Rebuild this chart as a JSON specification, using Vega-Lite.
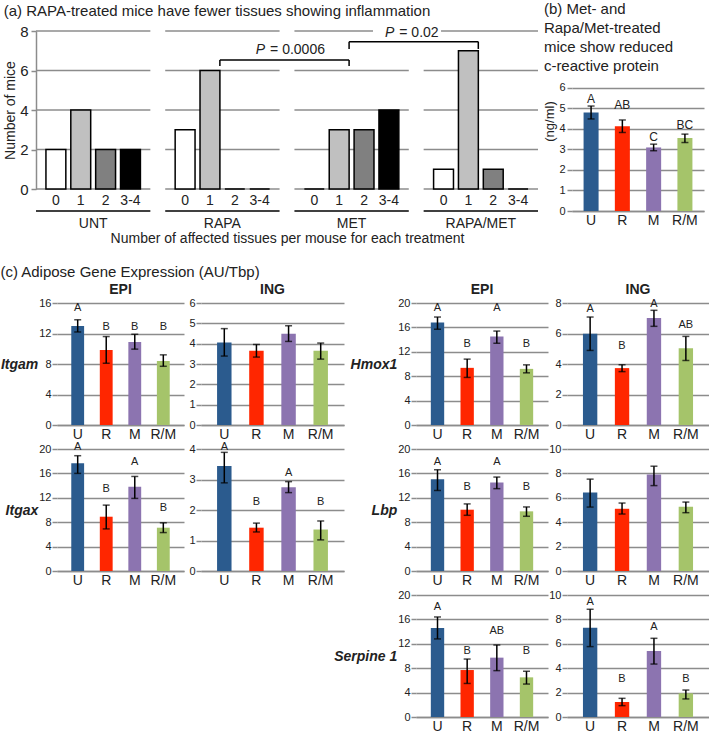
{
  "$schema": "https://vega.github.io/schema/vega-lite/v6.json",
  "padding": {"left": 0, "top": 2, "right": 0, "bottom": 0},
  "background": "white",
  "config": {
    "font": "Liberation Sans",
    "view": {"stroke": null},
    "axis": {"labelColor": "#222", "titleColor": "#222", "titleFontWeight": "normal", "gridColor": "#8c8c8c", "gridWidth": 1.5, "domainColor": "#8c8c8c", "domainWidth": 1.5, "tickColor": "#8c8c8c", "tickWidth": 1.5},
    "axisY": {"domain": false, "ticks": true, "tickSize": 5, "labelFontSize": 11, "labelPadding": 1, "grid": true},
    "axisX": {"ticks": false, "grid": false, "labelAngle": 0, "labelFontSize": 14, "labelPadding": 2},
    "title": {"fontWeight": "normal", "fontSize": 15, "color": "#222"},
    "text": {"color": "#222"},
    "legend": {"disable": true}
  },
  "datasets": {
    "a": [
      {"trt": "UNT", "cat": "0", "n": 2}, {"trt": "UNT", "cat": "1", "n": 4}, {"trt": "UNT", "cat": "2", "n": 2}, {"trt": "UNT", "cat": "3-4", "n": 2},
      {"trt": "RAPA", "cat": "0", "n": 3}, {"trt": "RAPA", "cat": "1", "n": 6}, {"trt": "RAPA", "cat": "2", "n": 0}, {"trt": "RAPA", "cat": "3-4", "n": 0},
      {"trt": "MET", "cat": "0", "n": 0}, {"trt": "MET", "cat": "1", "n": 3}, {"trt": "MET", "cat": "2", "n": 3}, {"trt": "MET", "cat": "3-4", "n": 4},
      {"trt": "RAPA/MET", "cat": "0", "n": 1}, {"trt": "RAPA/MET", "cat": "1", "n": 7}, {"trt": "RAPA/MET", "cat": "2", "n": 1}, {"trt": "RAPA/MET", "cat": "3-4", "n": 0}
    ],
    "grid": [
      {"trt": "UNT", "y": 0}, {"trt": "UNT", "y": 2}, {"trt": "UNT", "y": 4}, {"trt": "UNT", "y": 6}, {"trt": "UNT", "y": 8},
      {"trt": "RAPA", "y": 0}, {"trt": "RAPA", "y": 2}, {"trt": "RAPA", "y": 4}, {"trt": "RAPA", "y": 6}, {"trt": "RAPA", "y": 8},
      {"trt": "MET", "y": 0}, {"trt": "MET", "y": 2}, {"trt": "MET", "y": 4}, {"trt": "MET", "y": 6}, {"trt": "MET", "y": 8},
      {"trt": "RAPA/MET", "y": 0}, {"trt": "RAPA/MET", "y": 2}, {"trt": "RAPA/MET", "y": 4}, {"trt": "RAPA/MET", "y": 6}, {"trt": "RAPA/MET", "y": 8}
    ],
    "trts": [{"trt": "UNT"}, {"trt": "RAPA"}, {"trt": "MET"}, {"trt": "RAPA/MET"}],
    "br": [
      {"a": "RAPA", "b": "MET", "top": 6.53, "foot": 6.23, "py": 7.04, "pv": "= 0.0006"},
      {"a": "MET", "b": "RAPA/MET", "top": 7.46, "foot": 7.09, "py": 7.9, "pv": "= 0.02"}
    ],
    "b": [
      {"g": "U", "v": 4.81, "lo": 4.49, "hi": 5.12, "lt": "A", "ly": 5.47},
      {"g": "R", "v": 4.14, "lo": 3.83, "hi": 4.44, "lt": "AB", "ly": 5.17},
      {"g": "M", "v": 3.1, "lo": 2.94, "hi": 3.26, "lt": "C", "ly": 3.59},
      {"g": "R/M", "v": 3.56, "lo": 3.34, "hi": 3.75, "lt": "BC", "ly": 4.19}
    ],
    "c": [
      {"gene": "Itgam", "depot": "EPI", "g": "U", "v": 13.0, "lo": 12.2, "hi": 13.8, "lt": "A", "ly": 15.3},
      {"gene": "Itgam", "depot": "EPI", "g": "R", "v": 9.85, "lo": 8.1, "hi": 11.6, "lt": "B", "ly": 12.9},
      {"gene": "Itgam", "depot": "EPI", "g": "M", "v": 10.9, "lo": 9.95, "hi": 11.9, "lt": "B", "ly": 12.9},
      {"gene": "Itgam", "depot": "EPI", "g": "R/M", "v": 8.4, "lo": 7.7, "hi": 9.2, "lt": "B", "ly": 12.9},
      {"gene": "Itgam", "depot": "ING", "g": "U", "v": 4.06, "lo": 3.39, "hi": 4.74},
      {"gene": "Itgam", "depot": "ING", "g": "R", "v": 3.65, "lo": 3.34, "hi": 3.96},
      {"gene": "Itgam", "depot": "ING", "g": "M", "v": 4.49, "lo": 4.11, "hi": 4.88},
      {"gene": "Itgam", "depot": "ING", "g": "R/M", "v": 3.65, "lo": 3.24, "hi": 4.03},
      {"gene": "Itgax", "depot": "EPI", "g": "U", "v": 17.65, "lo": 16.0, "hi": 18.9, "lt": "A", "ly": 20.3},
      {"gene": "Itgax", "depot": "EPI", "g": "R", "v": 8.9, "lo": 6.9, "hi": 10.8, "lt": "B", "ly": 13.4},
      {"gene": "Itgax", "depot": "EPI", "g": "M", "v": 13.8, "lo": 11.9, "hi": 15.5, "lt": "A", "ly": 17.8},
      {"gene": "Itgax", "depot": "EPI", "g": "R/M", "v": 7.1, "lo": 6.3, "hi": 7.9, "lt": "B", "ly": 10.4},
      {"gene": "Itgax", "depot": "ING", "g": "U", "v": 3.44, "lo": 2.89, "hi": 3.89, "lt": "A", "ly": 4.06},
      {"gene": "Itgax", "depot": "ING", "g": "R", "v": 1.42, "lo": 1.28, "hi": 1.57, "lt": "B", "ly": 2.25},
      {"gene": "Itgax", "depot": "ING", "g": "M", "v": 2.75, "lo": 2.57, "hi": 2.93, "lt": "A", "ly": 3.2},
      {"gene": "Itgax", "depot": "ING", "g": "R/M", "v": 1.36, "lo": 1.02, "hi": 1.64, "lt": "B", "ly": 2.25},
      {"gene": "Hmox1", "depot": "EPI", "g": "U", "v": 16.8, "lo": 15.7, "hi": 17.7, "lt": "A", "ly": 19.1},
      {"gene": "Hmox1", "depot": "EPI", "g": "R", "v": 9.37, "lo": 7.8, "hi": 10.8, "lt": "B", "ly": 13.3},
      {"gene": "Hmox1", "depot": "EPI", "g": "M", "v": 14.5, "lo": 13.4, "hi": 15.4, "lt": "A", "ly": 19.1},
      {"gene": "Hmox1", "depot": "EPI", "g": "R/M", "v": 9.2, "lo": 8.55, "hi": 9.86, "lt": "B", "ly": 13.3},
      {"gene": "Hmox1", "depot": "ING", "g": "U", "v": 5.99, "lo": 4.89, "hi": 7.08, "lt": "A", "ly": 7.63},
      {"gene": "Hmox1", "depot": "ING", "g": "R", "v": 3.73, "lo": 3.5, "hi": 3.95, "lt": "B", "ly": 5.15},
      {"gene": "Hmox1", "depot": "ING", "g": "M", "v": 7.02, "lo": 6.47, "hi": 7.52, "lt": "A", "ly": 7.96},
      {"gene": "Hmox1", "depot": "ING", "g": "R/M", "v": 5.04, "lo": 4.23, "hi": 5.81, "lt": "AB", "ly": 6.54},
      {"gene": "Lbp", "depot": "EPI", "g": "U", "v": 15.05, "lo": 13.2, "hi": 16.6, "lt": "A", "ly": 17.9},
      {"gene": "Lbp", "depot": "EPI", "g": "R", "v": 10.05, "lo": 9.13, "hi": 11.0, "lt": "B", "ly": 13.75},
      {"gene": "Lbp", "depot": "EPI", "g": "M", "v": 14.5, "lo": 13.5, "hi": 15.4, "lt": "A", "ly": 17.9},
      {"gene": "Lbp", "depot": "EPI", "g": "R/M", "v": 9.78, "lo": 8.97, "hi": 10.5, "lt": "B", "ly": 13.75},
      {"gene": "Lbp", "depot": "ING", "g": "U", "v": 6.44, "lo": 5.24, "hi": 7.53},
      {"gene": "Lbp", "depot": "ING", "g": "R", "v": 5.1, "lo": 4.67, "hi": 5.57},
      {"gene": "Lbp", "depot": "ING", "g": "M", "v": 7.9, "lo": 7.0, "hi": 8.59},
      {"gene": "Lbp", "depot": "ING", "g": "R/M", "v": 5.27, "lo": 4.78, "hi": 5.65},
      {"gene": "Serpine 1", "depot": "EPI", "g": "U", "v": 14.6, "lo": 12.8, "hi": 16.4, "lt": "A", "ly": 18.1},
      {"gene": "Serpine 1", "depot": "EPI", "g": "R", "v": 7.7, "lo": 5.5, "hi": 9.5, "lt": "B", "ly": 10.8},
      {"gene": "Serpine 1", "depot": "EPI", "g": "M", "v": 9.73, "lo": 7.6, "hi": 11.8, "lt": "AB", "ly": 14.1},
      {"gene": "Serpine 1", "depot": "EPI", "g": "R/M", "v": 6.5, "lo": 5.4, "hi": 7.5, "lt": "B", "ly": 10.8},
      {"gene": "Serpine 1", "depot": "ING", "g": "U", "v": 7.32, "lo": 5.77, "hi": 8.83, "lt": "A", "ly": 9.45},
      {"gene": "Serpine 1", "depot": "ING", "g": "R", "v": 1.23, "lo": 0.93, "hi": 1.53, "lt": "B", "ly": 3.11},
      {"gene": "Serpine 1", "depot": "ING", "g": "M", "v": 5.41, "lo": 4.34, "hi": 6.45, "lt": "A", "ly": 7.4},
      {"gene": "Serpine 1", "depot": "ING", "g": "R/M", "v": 1.94, "lo": 1.48, "hi": 2.21, "lt": "B", "ly": 3.11}
    ]
  },
  "spacing": 20,
  "vconcat": [
    {
      "spacing": -16,
      "hconcat": [
        {
          "width": 481,
          "height": 158,
          "title": {"text": "(a) RAPA-treated mice have fewer tissues showing inflammation", "anchor": "start", "frame": "bounds", "fontSize": 15, "offset": 5},
          "layer": [
            {
              "data": {"name": "grid"},
              "mark": {"type": "rule", "color": "#8c8c8c", "strokeWidth": 1.5},
              "encoding": {
                "x": {"field": "trt", "type": "nominal", "bandPosition": 0, "title": "Number of affected tissues per mouse for each treatment",
                  "scale": {"domain": ["UNT", "RAPA", "MET", "RAPA/MET"], "range": [-21, 481], "paddingInner": 0.115, "paddingOuter": 0},
                  "axis": {"labelPadding": 27, "labelFontSize": 14, "titleFontSize": 14, "titlePadding": 1, "domain": false, "ticks": false}},
                "x2": {"field": "trt", "bandPosition": 1},
                "y": {"field": "y", "type": "quantitative", "title": "Number of mice", "scale": {"domain": [0, 8]},
                  "axis": {"values": [0, 2, 4, 6, 8], "offset": 21, "grid": false, "domain": true, "tickSize": 5, "labelFontSize": 15, "labelPadding": 3, "titleFontSize": 14, "titlePadding": 2}}
              }
            },
            {
              "data": {"values": [{}]},
              "mark": {"type": "rect", "fill": "white"},
              "encoding": {
                "x": {"datum": "MET", "type": "nominal", "bandPosition": 0.687},
                "x2": {"datum": "RAPA/MET", "bandPosition": 0.152},
                "y": {"datum": 7.7, "type": "quantitative", "title": "Number of mice", "axis": {"values": [0, 2, 4, 6, 8], "offset": 21, "grid": false, "domain": true, "tickSize": 5, "labelFontSize": 15, "labelPadding": 3, "titleFontSize": 14, "titlePadding": 2}},
                "y2": {"datum": 8.3}
              }
            },
            {
              "data": {"name": "a"},
              "mark": {"type": "bar", "stroke": "black", "strokeWidth": 1.5},
              "encoding": {
                "x": {"field": "trt", "type": "nominal", "title": "Number of affected tissues per mouse for each treatment"},
                "xOffset": {"field": "cat", "type": "nominal", "scale": {"domain": ["0", "1", "2", "3-4"], "paddingInner": 0.2, "paddingOuter": 0.4}},
                "y": {"field": "n", "type": "quantitative", "title": "Number of mice", "axis": {"values": [0, 2, 4, 6, 8], "offset": 21, "grid": false, "domain": true, "tickSize": 5, "labelFontSize": 15, "labelPadding": 3, "titleFontSize": 14, "titlePadding": 2}},
                "fill": {"field": "cat", "type": "nominal", "scale": {"domain": ["0", "1", "2", "3-4"], "range": ["#ffffff", "#c0c0c0", "#808080", "#000000"]}, "legend": null}
              }
            },
            {
              "data": {"name": "a"},
              "mark": {"type": "text", "fontSize": 14, "baseline": "top", "dy": 5},
              "encoding": {
                "x": {"field": "trt", "type": "nominal", "title": "Number of affected tissues per mouse for each treatment"},
                "xOffset": {"field": "cat", "type": "nominal"},
                "y": {"datum": 0, "type": "quantitative", "title": "Number of mice", "axis": {"values": [0, 2, 4, 6, 8], "offset": 21, "grid": false, "domain": true, "tickSize": 5, "labelFontSize": 15, "labelPadding": 3, "titleFontSize": 14, "titlePadding": 2}},
                "text": {"field": "cat"}
              }
            },
            {
              "data": {"name": "trts"},
              "mark": {"type": "rule", "color": "black", "strokeWidth": 1.5, "yOffset": 22},
              "encoding": {
                "x": {"field": "trt", "type": "nominal", "bandPosition": 0, "title": "Number of affected tissues per mouse for each treatment"},
                "x2": {"field": "trt", "bandPosition": 1},
                "y": {"datum": 0, "type": "quantitative", "title": "Number of mice", "axis": {"values": [0, 2, 4, 6, 8], "offset": 21, "grid": false, "domain": true, "tickSize": 5, "labelFontSize": 15, "labelPadding": 3, "titleFontSize": 14, "titlePadding": 2}}
              }
            },
            {
              "data": {"name": "br"},
              "mark": {"type": "rule", "color": "black", "strokeWidth": 1.5},
              "encoding": {
                "x": {"field": "a", "type": "nominal", "bandPosition": 0.478, "title": "Number of affected tissues per mouse for each treatment"},
                "x2": {"field": "b", "bandPosition": 0.478},
                "y": {"field": "top", "type": "quantitative", "title": "Number of mice", "axis": {"values": [0, 2, 4, 6, 8], "offset": 21, "grid": false, "domain": true, "tickSize": 5, "labelFontSize": 15, "labelPadding": 3, "titleFontSize": 14, "titlePadding": 2}}
              }
            },
            {
              "data": {"name": "br"},
              "mark": {"type": "rule", "color": "black", "strokeWidth": 1.5},
              "encoding": {
                "x": {"field": "a", "type": "nominal", "bandPosition": 0.478, "title": "Number of affected tissues per mouse for each treatment"},
                "y": {"field": "top", "type": "quantitative", "title": "Number of mice", "axis": {"values": [0, 2, 4, 6, 8], "offset": 21, "grid": false, "domain": true, "tickSize": 5, "labelFontSize": 15, "labelPadding": 3, "titleFontSize": 14, "titlePadding": 2}},
                "y2": {"field": "foot"}
              }
            },
            {
              "data": {"name": "br"},
              "mark": {"type": "rule", "color": "black", "strokeWidth": 1.5},
              "encoding": {
                "x": {"field": "b", "type": "nominal", "bandPosition": 0.478, "title": "Number of affected tissues per mouse for each treatment"},
                "y": {"field": "top", "type": "quantitative", "title": "Number of mice", "axis": {"values": [0, 2, 4, 6, 8], "offset": 21, "grid": false, "domain": true, "tickSize": 5, "labelFontSize": 15, "labelPadding": 3, "titleFontSize": 14, "titlePadding": 2}},
                "y2": {"field": "foot"}
              }
            },
            {
              "data": {"name": "br"},
              "mark": {"type": "text", "text": "P", "fontStyle": "italic", "fontSize": 14, "align": "right", "baseline": "middle", "dx": -84},
              "encoding": {
                "x": {"field": "b", "type": "nominal", "bandPosition": 0.478, "title": "Number of affected tissues per mouse for each treatment"},
                "y": {"field": "py", "type": "quantitative", "title": "Number of mice", "axis": {"values": [0, 2, 4, 6, 8], "offset": 21, "grid": false, "domain": true, "tickSize": 5, "labelFontSize": 15, "labelPadding": 3, "titleFontSize": 14, "titlePadding": 2}}
              }
            },
            {
              "data": {"name": "br"},
              "mark": {"type": "text", "fontSize": 14, "align": "left", "baseline": "middle", "dx": -79},
              "encoding": {
                "x": {"field": "b", "type": "nominal", "bandPosition": 0.478, "title": "Number of affected tissues per mouse for each treatment"},
                "y": {"field": "py", "type": "quantitative", "title": "Number of mice", "axis": {"values": [0, 2, 4, 6, 8], "offset": 21, "grid": false, "domain": true, "tickSize": 5, "labelFontSize": 15, "labelPadding": 3, "titleFontSize": 14, "titlePadding": 2}},
                "text": {"field": "pv"}
              }
            }
          ]
        },
        {
          "width": 132,
          "height": 180,
          "title": {"text": ["(b) Met- and", "Rapa/Met-treated", "mice show reduced", "c-reactive protein"], "anchor": "start", "frame": "bounds", "fontSize": 15, "lineHeight": 19, "offset": -43},
          "data": {"name": "b"},
          "encoding": {"x": {"field": "g", "type": "nominal", "sort": ["U", "R", "M", "R/M"], "title": null, "scale": {"paddingInner": 0.52, "paddingOuter": 0.37}}},
          "layer": [
            {"mark": {"type": "bar"}, "encoding": {
              "y": {"field": "v", "type": "quantitative", "title": "(ng/ml)", "scale": {"domain": [0, 8.78]}, "axis": {"values": [0, 1, 2, 3, 4, 5, 6], "titleFontSize": 13, "titlePadding": 2, "labelPadding": 2}},
              "color": {"field": "g", "type": "nominal", "scale": {"domain": ["U", "R", "M", "R/M"], "range": ["#2b5b8e", "#ff2600", "#8c74b0", "#a5c46a"]}, "legend": null}}},
            {"mark": {"type": "errorbar", "color": "black", "ticks": {"size": 7, "thickness": 1.5, "color": "black"}, "rule": {"strokeWidth": 1.5, "color": "black"}}, "encoding": {
              "y": {"field": "lo", "type": "quantitative", "title": "(ng/ml)", "scale": {"domain": [0, 8.78]}, "axis": {"values": [0, 1, 2, 3, 4, 5, 6], "titleFontSize": 13, "titlePadding": 2, "labelPadding": 2}},
              "y2": {"field": "hi"}}},
            {"mark": {"type": "text", "fontSize": 12, "baseline": "middle"}, "encoding": {
              "y": {"field": "ly", "type": "quantitative", "title": "(ng/ml)", "scale": {"domain": [0, 8.78]}, "axis": {"values": [0, 1, 2, 3, 4, 5, 6], "titleFontSize": 13, "titlePadding": 2, "labelPadding": 2}},
              "text": {"field": "lt"}}}
          ]
        }
      ]
    },
    {
      "title": {"text": "(c) Adipose Gene Expression (AU/Tbp)", "anchor": "start", "frame": "bounds", "fontSize": 15, "offset": 3},
      "spacing": -11,
      "hconcat": [
        {
          "spacing": 4,
          "hconcat": [
            {
              "spacing": 24, "bounds": "flush",
              "vconcat": [
                {
                  "width": 127, "height": 122,
                  "title": {"text": "EPI", "fontWeight": "bold", "fontSize": 14, "offset": 0},
                  "data": {"name": "c"},
                  "transform": [{"filter": "datum.gene === 'Itgam' && datum.depot === 'EPI'"}],
                  "encoding": {"x": {"field": "g", "type": "nominal", "sort": ["U", "R", "M", "R/M"], "title": null, "scale": {"paddingInner": 0.55, "paddingOuter": 0.5}}},
                  "layer": [
                    {"mark": {"type": "bar"}, "encoding": {
                      "y": {"field": "v", "type": "quantitative", "title": "Itgam", "scale": {"domain": [0, 16]}, "axis": {"values": [0, 4, 8, 12, 16], "titleAngle": 0, "titleAlign": "right", "titleBaseline": "middle", "titleFontStyle": "italic", "titleFontWeight": "bold", "titleFontSize": 14, "titlePadding": 1}},
                      "color": {"field": "g", "type": "nominal", "scale": {"domain": ["U", "R", "M", "R/M"], "range": ["#2b5b8e", "#ff2600", "#8c74b0", "#a5c46a"]}, "legend": null}}},
                    {"mark": {"type": "errorbar", "color": "black", "ticks": {"size": 7, "thickness": 1.5, "color": "black"}, "rule": {"strokeWidth": 1.5, "color": "black"}}, "encoding": {
                      "y": {"field": "lo", "type": "quantitative", "title": "Itgam", "scale": {"domain": [0, 16]}, "axis": {"values": [0, 4, 8, 12, 16], "titleAngle": 0, "titleAlign": "right", "titleBaseline": "middle", "titleFontStyle": "italic", "titleFontWeight": "bold", "titleFontSize": 14, "titlePadding": 1}},
                      "y2": {"field": "hi"}}},
                    {"transform": [{"filter": "datum.lt"}], "mark": {"type": "text", "fontSize": 11, "baseline": "middle"}, "encoding": {
                      "y": {"field": "ly", "type": "quantitative", "title": "Itgam", "scale": {"domain": [0, 16]}, "axis": {"values": [0, 4, 8, 12, 16], "titleAngle": 0, "titleAlign": "right", "titleBaseline": "middle", "titleFontStyle": "italic", "titleFontWeight": "bold", "titleFontSize": 14, "titlePadding": 1}},
                      "text": {"field": "lt"}}}
                  ]
                },
                {
                  "width": 127, "height": 122,
                  "data": {"name": "c"},
                  "transform": [{"filter": "datum.gene === 'Itgax' && datum.depot === 'EPI'"}],
                  "encoding": {"x": {"field": "g", "type": "nominal", "sort": ["U", "R", "M", "R/M"], "title": null, "scale": {"paddingInner": 0.55, "paddingOuter": 0.5}}},
                  "layer": [
                    {"mark": {"type": "bar"}, "encoding": {
                      "y": {"field": "v", "type": "quantitative", "title": "Itgax", "scale": {"domain": [0, 20]}, "axis": {"values": [0, 4, 8, 12, 16, 20], "titleAngle": 0, "titleAlign": "right", "titleBaseline": "middle", "titleFontStyle": "italic", "titleFontWeight": "bold", "titleFontSize": 14, "titlePadding": 1}},
                      "color": {"field": "g", "type": "nominal", "scale": {"domain": ["U", "R", "M", "R/M"], "range": ["#2b5b8e", "#ff2600", "#8c74b0", "#a5c46a"]}, "legend": null}}},
                    {"mark": {"type": "errorbar", "color": "black", "ticks": {"size": 7, "thickness": 1.5, "color": "black"}, "rule": {"strokeWidth": 1.5, "color": "black"}}, "encoding": {
                      "y": {"field": "lo", "type": "quantitative", "title": "Itgax", "scale": {"domain": [0, 20]}, "axis": {"values": [0, 4, 8, 12, 16, 20], "titleAngle": 0, "titleAlign": "right", "titleBaseline": "middle", "titleFontStyle": "italic", "titleFontWeight": "bold", "titleFontSize": 14, "titlePadding": 1}},
                      "y2": {"field": "hi"}}},
                    {"transform": [{"filter": "datum.lt"}], "mark": {"type": "text", "fontSize": 11, "baseline": "middle"}, "encoding": {
                      "y": {"field": "ly", "type": "quantitative", "title": "Itgax", "scale": {"domain": [0, 20]}, "axis": {"values": [0, 4, 8, 12, 16, 20], "titleAngle": 0, "titleAlign": "right", "titleBaseline": "middle", "titleFontStyle": "italic", "titleFontWeight": "bold", "titleFontSize": 14, "titlePadding": 1}},
                      "text": {"field": "lt"}}}
                  ]
                }
              ]
            },
            {
              "spacing": 24, "bounds": "flush",
              "vconcat": [
                {
                  "width": 143, "height": 122,
                  "title": {"text": "ING", "fontWeight": "bold", "fontSize": 14, "offset": 0},
                  "data": {"name": "c"},
                  "transform": [{"filter": "datum.gene === 'Itgam' && datum.depot === 'ING'"}],
                  "encoding": {"x": {"field": "g", "type": "nominal", "sort": ["U", "R", "M", "R/M"], "title": null, "scale": {"paddingInner": 0.55, "paddingOuter": 0.5}}},
                  "layer": [
                    {"mark": {"type": "bar"}, "encoding": {
                      "y": {"field": "v", "type": "quantitative", "title": null, "scale": {"domain": [0, 6]}, "axis": {"values": [0, 1, 2, 3, 4, 5, 6]}},
                      "color": {"field": "g", "type": "nominal", "scale": {"domain": ["U", "R", "M", "R/M"], "range": ["#2b5b8e", "#ff2600", "#8c74b0", "#a5c46a"]}, "legend": null}}},
                    {"mark": {"type": "errorbar", "color": "black", "ticks": {"size": 7, "thickness": 1.5, "color": "black"}, "rule": {"strokeWidth": 1.5, "color": "black"}}, "encoding": {
                      "y": {"field": "lo", "type": "quantitative", "title": null, "scale": {"domain": [0, 6]}, "axis": {"values": [0, 1, 2, 3, 4, 5, 6]}},
                      "y2": {"field": "hi"}}}
                  ]
                },
                {
                  "width": 143, "height": 122,
                  "data": {"name": "c"},
                  "transform": [{"filter": "datum.gene === 'Itgax' && datum.depot === 'ING'"}],
                  "encoding": {"x": {"field": "g", "type": "nominal", "sort": ["U", "R", "M", "R/M"], "title": null, "scale": {"paddingInner": 0.55, "paddingOuter": 0.5}}},
                  "layer": [
                    {"mark": {"type": "bar"}, "encoding": {
                      "y": {"field": "v", "type": "quantitative", "title": null, "scale": {"domain": [0, 4]}, "axis": {"values": [0, 1, 2, 3, 4]}},
                      "color": {"field": "g", "type": "nominal", "scale": {"domain": ["U", "R", "M", "R/M"], "range": ["#2b5b8e", "#ff2600", "#8c74b0", "#a5c46a"]}, "legend": null}}},
                    {"mark": {"type": "errorbar", "color": "black", "ticks": {"size": 7, "thickness": 1.5, "color": "black"}, "rule": {"strokeWidth": 1.5, "color": "black"}}, "encoding": {
                      "y": {"field": "lo", "type": "quantitative", "title": null, "scale": {"domain": [0, 4]}, "axis": {"values": [0, 1, 2, 3, 4]}},
                      "y2": {"field": "hi"}}},
                    {"transform": [{"filter": "datum.lt"}], "mark": {"type": "text", "fontSize": 11, "baseline": "middle"}, "encoding": {
                      "y": {"field": "ly", "type": "quantitative", "title": null, "scale": {"domain": [0, 4]}, "axis": {"values": [0, 1, 2, 3, 4]}},
                      "text": {"field": "lt"}}}
                  ]
                }
              ]
            }
          ]
        },
        {
          "spacing": 0,
          "hconcat": [
            {
              "spacing": 24, "bounds": "flush",
              "vconcat": [
                {
                  "width": 132, "height": 122,
                  "title": {"text": "EPI", "fontWeight": "bold", "fontSize": 14, "offset": 0},
                  "data": {"name": "c"},
                  "transform": [{"filter": "datum.gene === 'Hmox1' && datum.depot === 'EPI'"}],
                  "encoding": {"x": {"field": "g", "type": "nominal", "sort": ["U", "R", "M", "R/M"], "title": null, "scale": {"paddingInner": 0.55, "paddingOuter": 0.5}}},
                  "layer": [
                    {"mark": {"type": "bar"}, "encoding": {
                      "y": {"field": "v", "type": "quantitative", "title": "Hmox1", "scale": {"domain": [0, 20]}, "axis": {"values": [0, 4, 8, 12, 16, 20], "titleAngle": 0, "titleAlign": "right", "titleBaseline": "middle", "titleFontStyle": "italic", "titleFontWeight": "bold", "titleFontSize": 14, "titlePadding": 1}},
                      "color": {"field": "g", "type": "nominal", "scale": {"domain": ["U", "R", "M", "R/M"], "range": ["#2b5b8e", "#ff2600", "#8c74b0", "#a5c46a"]}, "legend": null}}},
                    {"mark": {"type": "errorbar", "color": "black", "ticks": {"size": 7, "thickness": 1.5, "color": "black"}, "rule": {"strokeWidth": 1.5, "color": "black"}}, "encoding": {
                      "y": {"field": "lo", "type": "quantitative", "title": "Hmox1", "scale": {"domain": [0, 20]}, "axis": {"values": [0, 4, 8, 12, 16, 20], "titleAngle": 0, "titleAlign": "right", "titleBaseline": "middle", "titleFontStyle": "italic", "titleFontWeight": "bold", "titleFontSize": 14, "titlePadding": 1}},
                      "y2": {"field": "hi"}}},
                    {"transform": [{"filter": "datum.lt"}], "mark": {"type": "text", "fontSize": 11, "baseline": "middle"}, "encoding": {
                      "y": {"field": "ly", "type": "quantitative", "title": "Hmox1", "scale": {"domain": [0, 20]}, "axis": {"values": [0, 4, 8, 12, 16, 20], "titleAngle": 0, "titleAlign": "right", "titleBaseline": "middle", "titleFontStyle": "italic", "titleFontWeight": "bold", "titleFontSize": 14, "titlePadding": 1}},
                      "text": {"field": "lt"}}}
                  ]
                },
                {
                  "width": 132, "height": 122,
                  "data": {"name": "c"},
                  "transform": [{"filter": "datum.gene === 'Lbp' && datum.depot === 'EPI'"}],
                  "encoding": {"x": {"field": "g", "type": "nominal", "sort": ["U", "R", "M", "R/M"], "title": null, "scale": {"paddingInner": 0.55, "paddingOuter": 0.5}}},
                  "layer": [
                    {"mark": {"type": "bar"}, "encoding": {
                      "y": {"field": "v", "type": "quantitative", "title": "Lbp", "scale": {"domain": [0, 20]}, "axis": {"values": [0, 4, 8, 12, 16, 20], "titleAngle": 0, "titleAlign": "right", "titleBaseline": "middle", "titleFontStyle": "italic", "titleFontWeight": "bold", "titleFontSize": 14, "titlePadding": 1}},
                      "color": {"field": "g", "type": "nominal", "scale": {"domain": ["U", "R", "M", "R/M"], "range": ["#2b5b8e", "#ff2600", "#8c74b0", "#a5c46a"]}, "legend": null}}},
                    {"mark": {"type": "errorbar", "color": "black", "ticks": {"size": 7, "thickness": 1.5, "color": "black"}, "rule": {"strokeWidth": 1.5, "color": "black"}}, "encoding": {
                      "y": {"field": "lo", "type": "quantitative", "title": "Lbp", "scale": {"domain": [0, 20]}, "axis": {"values": [0, 4, 8, 12, 16, 20], "titleAngle": 0, "titleAlign": "right", "titleBaseline": "middle", "titleFontStyle": "italic", "titleFontWeight": "bold", "titleFontSize": 14, "titlePadding": 1}},
                      "y2": {"field": "hi"}}},
                    {"transform": [{"filter": "datum.lt"}], "mark": {"type": "text", "fontSize": 11, "baseline": "middle"}, "encoding": {
                      "y": {"field": "ly", "type": "quantitative", "title": "Lbp", "scale": {"domain": [0, 20]}, "axis": {"values": [0, 4, 8, 12, 16, 20], "titleAngle": 0, "titleAlign": "right", "titleBaseline": "middle", "titleFontStyle": "italic", "titleFontWeight": "bold", "titleFontSize": 14, "titlePadding": 1}},
                      "text": {"field": "lt"}}}
                  ]
                },
                {
                  "width": 132, "height": 122,
                  "data": {"name": "c"},
                  "transform": [{"filter": "datum.gene === 'Serpine 1' && datum.depot === 'EPI'"}],
                  "encoding": {"x": {"field": "g", "type": "nominal", "sort": ["U", "R", "M", "R/M"], "title": null, "scale": {"paddingInner": 0.55, "paddingOuter": 0.5}}},
                  "layer": [
                    {"mark": {"type": "bar"}, "encoding": {
                      "y": {"field": "v", "type": "quantitative", "title": "Serpine 1", "scale": {"domain": [0, 20]}, "axis": {"values": [0, 4, 8, 12, 16, 20], "titleAngle": 0, "titleAlign": "right", "titleBaseline": "middle", "titleFontStyle": "italic", "titleFontWeight": "bold", "titleFontSize": 14, "titlePadding": 1}},
                      "color": {"field": "g", "type": "nominal", "scale": {"domain": ["U", "R", "M", "R/M"], "range": ["#2b5b8e", "#ff2600", "#8c74b0", "#a5c46a"]}, "legend": null}}},
                    {"mark": {"type": "errorbar", "color": "black", "ticks": {"size": 7, "thickness": 1.5, "color": "black"}, "rule": {"strokeWidth": 1.5, "color": "black"}}, "encoding": {
                      "y": {"field": "lo", "type": "quantitative", "title": "Serpine 1", "scale": {"domain": [0, 20]}, "axis": {"values": [0, 4, 8, 12, 16, 20], "titleAngle": 0, "titleAlign": "right", "titleBaseline": "middle", "titleFontStyle": "italic", "titleFontWeight": "bold", "titleFontSize": 14, "titlePadding": 1}},
                      "y2": {"field": "hi"}}},
                    {"transform": [{"filter": "datum.lt"}], "mark": {"type": "text", "fontSize": 11, "baseline": "middle"}, "encoding": {
                      "y": {"field": "ly", "type": "quantitative", "title": "Serpine 1", "scale": {"domain": [0, 20]}, "axis": {"values": [0, 4, 8, 12, 16, 20], "titleAngle": 0, "titleAlign": "right", "titleBaseline": "middle", "titleFontStyle": "italic", "titleFontWeight": "bold", "titleFontSize": 14, "titlePadding": 1}},
                      "text": {"field": "lt"}}}
                  ]
                }
              ]
            },
            {
              "spacing": 24, "bounds": "flush",
              "vconcat": [
                {
                  "width": 142, "height": 122,
                  "title": {"text": "ING", "fontWeight": "bold", "fontSize": 14, "offset": 0},
                  "data": {"name": "c"},
                  "transform": [{"filter": "datum.gene === 'Hmox1' && datum.depot === 'ING'"}],
                  "encoding": {"x": {"field": "g", "type": "nominal", "sort": ["U", "R", "M", "R/M"], "title": null, "scale": {"paddingInner": 0.55, "paddingOuter": 0.5}}},
                  "layer": [
                    {"mark": {"type": "bar"}, "encoding": {
                      "y": {"field": "v", "type": "quantitative", "title": null, "scale": {"domain": [0, 8]}, "axis": {"values": [0, 2, 4, 6, 8]}},
                      "color": {"field": "g", "type": "nominal", "scale": {"domain": ["U", "R", "M", "R/M"], "range": ["#2b5b8e", "#ff2600", "#8c74b0", "#a5c46a"]}, "legend": null}}},
                    {"mark": {"type": "errorbar", "color": "black", "ticks": {"size": 7, "thickness": 1.5, "color": "black"}, "rule": {"strokeWidth": 1.5, "color": "black"}}, "encoding": {
                      "y": {"field": "lo", "type": "quantitative", "title": null, "scale": {"domain": [0, 8]}, "axis": {"values": [0, 2, 4, 6, 8]}},
                      "y2": {"field": "hi"}}},
                    {"transform": [{"filter": "datum.lt"}], "mark": {"type": "text", "fontSize": 11, "baseline": "middle"}, "encoding": {
                      "y": {"field": "ly", "type": "quantitative", "title": null, "scale": {"domain": [0, 8]}, "axis": {"values": [0, 2, 4, 6, 8]}},
                      "text": {"field": "lt"}}}
                  ]
                },
                {
                  "width": 142, "height": 122,
                  "data": {"name": "c"},
                  "transform": [{"filter": "datum.gene === 'Lbp' && datum.depot === 'ING'"}],
                  "encoding": {"x": {"field": "g", "type": "nominal", "sort": ["U", "R", "M", "R/M"], "title": null, "scale": {"paddingInner": 0.55, "paddingOuter": 0.5}}},
                  "layer": [
                    {"mark": {"type": "bar"}, "encoding": {
                      "y": {"field": "v", "type": "quantitative", "title": null, "scale": {"domain": [0, 10]}, "axis": {"values": [0, 2, 4, 6, 8, 10]}},
                      "color": {"field": "g", "type": "nominal", "scale": {"domain": ["U", "R", "M", "R/M"], "range": ["#2b5b8e", "#ff2600", "#8c74b0", "#a5c46a"]}, "legend": null}}},
                    {"mark": {"type": "errorbar", "color": "black", "ticks": {"size": 7, "thickness": 1.5, "color": "black"}, "rule": {"strokeWidth": 1.5, "color": "black"}}, "encoding": {
                      "y": {"field": "lo", "type": "quantitative", "title": null, "scale": {"domain": [0, 10]}, "axis": {"values": [0, 2, 4, 6, 8, 10]}},
                      "y2": {"field": "hi"}}}
                  ]
                },
                {
                  "width": 142, "height": 122,
                  "data": {"name": "c"},
                  "transform": [{"filter": "datum.gene === 'Serpine 1' && datum.depot === 'ING'"}],
                  "encoding": {"x": {"field": "g", "type": "nominal", "sort": ["U", "R", "M", "R/M"], "title": null, "scale": {"paddingInner": 0.55, "paddingOuter": 0.5}}},
                  "layer": [
                    {"mark": {"type": "bar"}, "encoding": {
                      "y": {"field": "v", "type": "quantitative", "title": null, "scale": {"domain": [0, 10]}, "axis": {"values": [0, 2, 4, 6, 8, 10]}},
                      "color": {"field": "g", "type": "nominal", "scale": {"domain": ["U", "R", "M", "R/M"], "range": ["#2b5b8e", "#ff2600", "#8c74b0", "#a5c46a"]}, "legend": null}}},
                    {"mark": {"type": "errorbar", "color": "black", "ticks": {"size": 7, "thickness": 1.5, "color": "black"}, "rule": {"strokeWidth": 1.5, "color": "black"}}, "encoding": {
                      "y": {"field": "lo", "type": "quantitative", "title": null, "scale": {"domain": [0, 10]}, "axis": {"values": [0, 2, 4, 6, 8, 10]}},
                      "y2": {"field": "hi"}}},
                    {"transform": [{"filter": "datum.lt"}], "mark": {"type": "text", "fontSize": 11, "baseline": "middle"}, "encoding": {
                      "y": {"field": "ly", "type": "quantitative", "title": null, "scale": {"domain": [0, 10]}, "axis": {"values": [0, 2, 4, 6, 8, 10]}},
                      "text": {"field": "lt"}}}
                  ]
                }
              ]
            }
          ]
        }
      ]
    }
  ]
}
